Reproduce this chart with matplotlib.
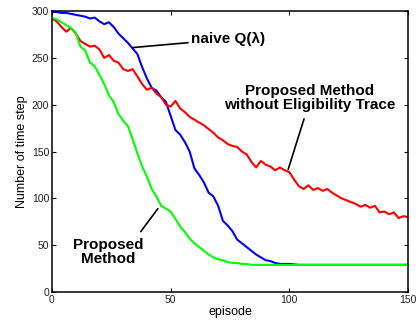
import numpy as np
import matplotlib
matplotlib.use("Agg")
import matplotlib.pyplot as plt

# episodes sampled every 2
episodes = np.arange(0, 151, 2)

naive_q = [299, 299, 298, 298, 297, 296, 295, 294, 292, 293,
           289, 286, 288, 283, 276, 271, 266, 260, 254, 240,
           228, 218, 215, 208, 203, 188, 173, 168, 160, 150,
           132, 125, 117, 106, 102, 92, 76, 71, 65, 56,
           52, 48, 44, 40, 37, 34, 33, 31, 30, 30,
           30, 29.5] + [29] * 24

no_trace = [292, 289, 283, 278, 282, 276, 268, 265, 262, 263,
            259, 250, 253, 247, 245, 238, 236, 238, 230, 222,
            216, 218, 212, 208, 200, 198, 204, 196, 192, 187,
            184, 181, 178, 174, 170, 165, 162, 158, 156, 155,
            150, 147, 139, 133, 140, 136, 134, 130, 133, 130,
            128, 120, 113, 110, 114, 109, 111, 108, 110, 106,
            103, 100, 98, 96, 94, 91, 93, 90, 92, 85,
            86, 83, 85, 79, 81, 80]

proposed = [293, 291, 288, 285, 282, 277, 262, 258, 245, 241,
            232, 222, 210, 203, 190, 183, 177, 163, 148, 134,
            123, 110, 102, 92, 89, 86, 78, 70, 64, 57,
            52, 48, 44, 40, 37, 35, 34, 32, 31, 31,
            30, 30] + [29] * 34

plt.rcParams['font.family'] = ['Liberation Sans', 'DejaVu Sans']

fig = plt.figure(figsize=(4.19, 3.25), dpi=100)
ax = fig.add_axes([0.124, 0.1015, 0.850, 0.8645])

ax.plot(episodes, naive_q, color='#0000ff', lw=1.5)
ax.plot(episodes, no_trace, color='#ff0000', lw=1.5)
ax.plot(episodes, proposed, color='#00ff00', lw=1.5)

ax.set_xlim(0, 150)
ax.set_ylim(0, 300)
ax.set_xticks([0, 50, 100, 150])
ax.set_yticks([0, 50, 100, 150, 200, 250, 300])
ax.tick_params(direction='in', top=True, right=True, length=3, width=0.8,
               labelsize=7.5, labelcolor='#222222', pad=2)
for s in ax.spines.values():
    s.set_linewidth(1.1)
ax.set_xlabel('episode', fontsize=9, labelpad=1)
ax.set_ylabel('Number of time step', fontsize=9, labelpad=3)

line = dict(arrowstyle='-', color='black', lw=1.2, shrinkA=0, shrinkB=0)
ax.annotate('naive Q(λ)', xy=(34, 261), xytext=(58.5, 270),
            fontsize=11, fontweight='bold', ha='left', va='center',
            arrowprops=line)
ax.annotate('Proposed Method\nwithout Eligibility Trace', xy=(99.5, 131),
            xytext=(108.5, 207), fontsize=11, fontweight='bold',
            ha='center', va='center', linespacing=1.0,
            arrowprops=dict(line, relpos=(0.48, 0.0), shrinkA=3))
ax.annotate('Proposed\nMethod', xy=(44.6, 89), xytext=(23.6, 43),
            fontsize=11, fontweight='bold', ha='center', va='center',
            linespacing=1.0, arrowprops=dict(line, relpos=(0.9, 1.0), shrinkA=3))

fig.savefig('out.png', dpi=100)
